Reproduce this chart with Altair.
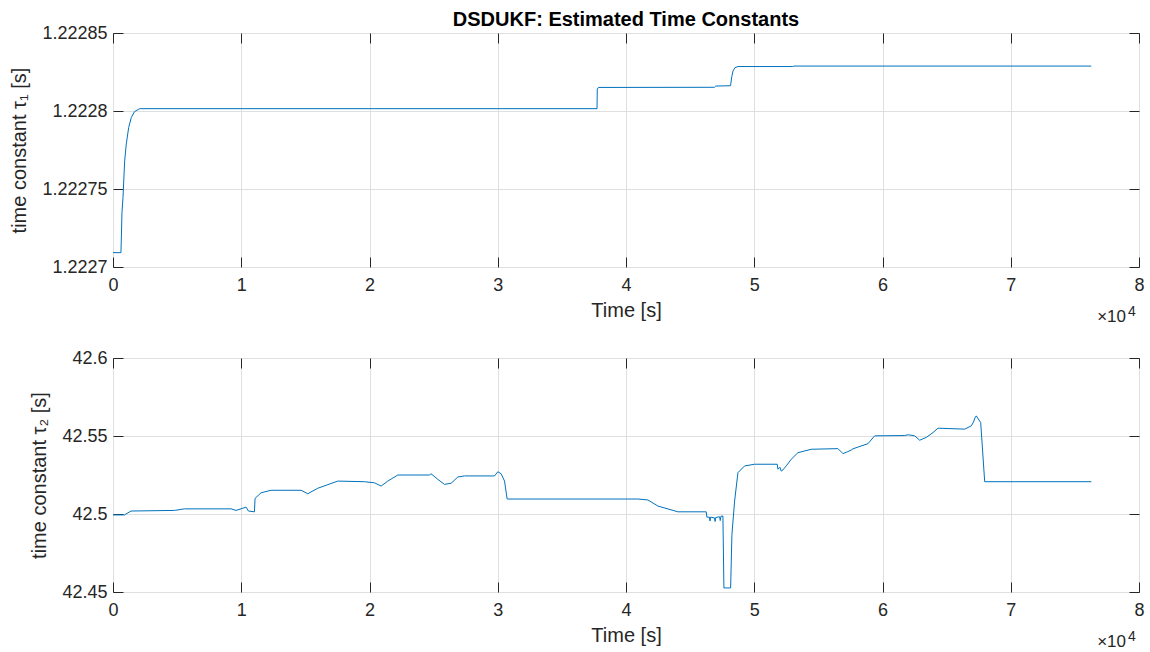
import altair as alt
import pandas as pd

# ---- data ----
t1 = [0, 620, 660, 700, 780, 910, 1036, 1223, 1425, 1690, 2080,
      37740, 37760, 37850, 46900, 47000, 48150, 48250, 48340, 48500, 48730, 53000, 53100, 76280]
tau1 = [1.2227092, 1.2227092, 1.2227212, 1.2227350, 1.2227445, 1.2227680, 1.2227789,
        1.2227894, 1.2227958, 1.2227997, 1.2228015,
        1.2228015, 1.2228140, 1.2228151, 1.2228152, 1.2228160, 1.2228162, 1.2228220,
        1.2228256, 1.2228278, 1.2228285, 1.2228285, 1.2228288, 1.2228288]

t2 = [0, 889, 1404, 4789, 5569, 9204, 9594, 10374, 10561, 11029, 11076, 11544, 12324,
      14664, 15187, 15967, 17527, 19609, 20389, 20904, 21427, 22207, 24679, 24804,
      25327, 25849, 26364, 26887, 27409, 29749, 30007, 30264, 30529, 30732,
      40927, 41707, 42487, 44047, 46254, 46309, 46500, 46550, 46600, 46900, 46950,
      47000, 47300, 47350, 47400, 47557, 47635, 48157, 48259, 48469, 48727, 49249,
      50029, 51792, 51847, 52000, 52100, 52237, 52494, 52884, 53407, 54444, 56527,
      56917, 57300, 57564, 57700, 58867, 59389, 61729, 62000, 62509, 62899, 63414,
      63937, 64327, 66409, 66924, 67100, 67200, 67314, 67657, 67969, 76284]
tau2 = [42.4994, 42.4994, 42.5019, 42.5023, 42.5033, 42.5033, 42.5023, 42.5044, 42.5019,
        42.5014, 42.5100, 42.5136, 42.5152,
        42.5152, 42.5130, 42.5165, 42.5211, 42.5207, 42.5200, 42.5179, 42.5211, 42.5250,
        42.5250, 42.5258,
        42.5222, 42.5190, 42.5197, 42.5237, 42.5244, 42.5244, 42.5271, 42.5258, 42.5211,
        42.5096,
        42.5096, 42.5090, 42.5051, 42.5014, 42.5014, 42.4980, 42.4980, 42.4955, 42.4980,
        42.4975, 42.4952,
        42.4978, 42.4982, 42.4958, 42.4985, 42.4987, 42.4526, 42.4526, 42.4869, 42.5083,
        42.5265, 42.5308,
        42.5319, 42.5319, 42.5287, 42.5300, 42.5275, 42.5283, 42.5308, 42.5351, 42.5393,
        42.5415, 42.5419,
        42.5387, 42.5400, 42.5410, 42.5418, 42.5451, 42.5501, 42.5503, 42.5508, 42.5501,
        42.5473, 42.5491,
        42.5522, 42.5550, 42.5544, 42.5565, 42.5590, 42.5615, 42.5629, 42.5586, 42.5207,
        42.5207]

x_ticks = [0, 10000, 20000, 30000, 40000, 50000, 60000, 70000, 80000]
y1_ticks = [1.2227, 1.22275, 1.2228, 1.22285]
y2_ticks = [42.45, 42.5, 42.55, 42.6]

W, H = 1026, 234
FONT = "Liberation Sans"
AX = "#262626"
GRID = "#dfdfdf"
BLUE = "#0072BD"


def panel(df, ycol, yticks, ydom, yfmt, ytitle, title=None):
    xs = alt.Scale(domain=[0, 80000], nice=False, zero=False)
    ys = alt.Scale(domain=ydom, nice=False, zero=False)
    base = alt.Chart(df)
    main = base.mark_line(color=BLUE, strokeWidth=1, clip=True).encode(
        x=alt.X("t:Q", scale=xs, axis=alt.Axis(
            values=x_ticks, labelExpr="datum.value / 10000", title="Time [s]",
            grid=True, ticks=False, tickSize=0, domain=False, labelPadding=9,
            titlePadding=6, orient="bottom", labelFlush=False)),
        y=alt.Y(f"{ycol}:Q", scale=ys, axis=alt.Axis(
            values=yticks, labelExpr=f"format(datum.value, '{yfmt}')", title=ytitle,
            grid=True, ticks=False, tickSize=0, domain=False, labelPadding=6,
            titlePadding=12, orient="left", labelFlush=False)),
    )
    layers = [main]
    for xo, yo in (("bottom", "left"), ("top", "right")):
        layers.append(base.mark_line(opacity=0).encode(
            x=alt.X("t:Q", scale=xs, axis=alt.Axis(
                values=x_ticks, labels=False, title=None, grid=False, domain=False,
                ticks=True, tickSize=10, offset=-10, orient=xo,
                minExtent=0, maxExtent=0)),
            y=alt.Y(f"{ycol}:Q", scale=ys, axis=alt.Axis(
                values=yticks, labels=False, title=None, grid=False, domain=False,
                ticks=True, tickSize=10, offset=-10, orient=yo,
                minExtent=0, maxExtent=0)),
        ))
    times = alt.Chart(pd.DataFrame({"s": ["×10"]})).mark_text(
        align="right", baseline="alphabetic", font=FONT, fontSize=17, color=AX
    ).encode(text="s:N", x=alt.value(1013), y=alt.value(289))
    expo = alt.Chart(pd.DataFrame({"s": ["4"]})).mark_text(
        align="left", baseline="alphabetic", font=FONT, fontSize=14, color=AX
    ).encode(text="s:N", x=alt.value(1015), y=alt.value(283))
    layers += [times, expo]
    ch = alt.layer(*layers).resolve_scale(x="shared", y="shared").resolve_axis(
        x="independent", y="independent").properties(width=W, height=H)
    if title:
        ch = ch.properties(title=alt.TitleParams(
            title, font=FONT, fontSize=20, fontWeight="bold", color="black",
            offset=-6, anchor="middle"))
    return ch


df1 = pd.DataFrame({"t": t1, "tau1": tau1})
df2 = pd.DataFrame({"t": t2, "tau2": tau2})

top = panel(df1, "tau1", y1_ticks, [1.2227, 1.22285], ".5~f",
            "time constant τ₁ [s]", "DSDUKF: Estimated Time Constants")
bottom = panel(df2, "tau2", y2_ticks, [42.45, 42.6], ".2~f", "time constant τ₂ [s]")

chart = alt.vconcat(top, bottom, spacing=91, bounds="flush").configure(
    padding={"left": 9, "top": 9, "right": 4, "bottom": 0},
    background="white",
).configure_view(stroke=AX, strokeWidth=1).configure_axis(
    labelFont=FONT, titleFont=FONT, labelFontSize=18, titleFontSize=20,
    labelColor=AX, titleColor=AX, gridColor=GRID, tickColor=AX,
    titleFontWeight="normal", gridWidth=1, tickWidth=1)

chart.save("out.html", embed_options={"renderer": "svg", "actions": False})
